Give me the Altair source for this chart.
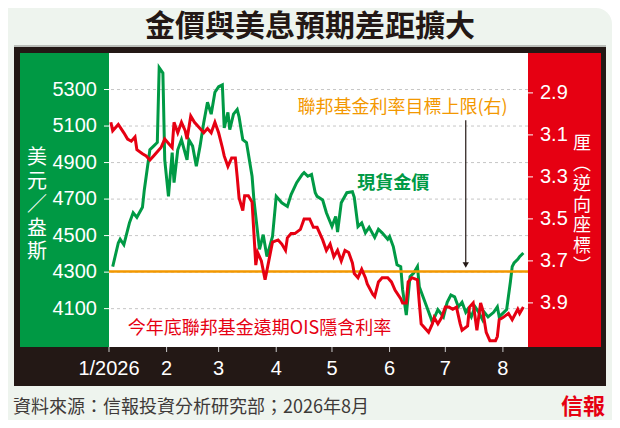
import altair as alt
import pandas as pd

CJK = "Noto Sans CJK TC"
NUM = "Liberation Sans"
# Latin primary face (compact line box) with CJK glyphs supplied by the fallback face
STACK = "Liberation Sans, Noto Sans CJK TC"

# ---------------- data ----------------
gold_dates = [
    "2026-01-03", "2026-01-06", "2026-01-07", "2026-01-09", "2026-01-12", "2026-01-14",
    "2026-01-16", "2026-01-19", "2026-01-20", "2026-01-23", "2026-01-25", "2026-01-27",
    "2026-01-28", "2026-01-30", "2026-01-31", "2026-02-02", "2026-02-04", "2026-02-05",
    "2026-02-07", "2026-02-09", "2026-02-12", "2026-02-13", "2026-02-15", "2026-02-17",
    "2026-02-19", "2026-02-21", "2026-02-23", "2026-02-25", "2026-02-27", "2026-03-01",
    "2026-03-03", "2026-03-04", "2026-03-06", "2026-03-07", "2026-03-09", "2026-03-11",
    "2026-03-12", "2026-03-14", "2026-03-16", "2026-03-19", "2026-03-20", "2026-03-22",
    "2026-03-23", "2026-03-25", "2026-03-27", "2026-03-30", "2026-04-01", "2026-04-04",
    "2026-04-07", "2026-04-09", "2026-04-12", "2026-04-15", "2026-04-16", "2026-04-18",
    "2026-04-20", "2026-04-22", "2026-04-23", "2026-04-26", "2026-04-28", "2026-05-01",
    "2026-05-03", "2026-05-04", "2026-05-06", "2026-05-09", "2026-05-12", "2026-05-13",
    "2026-05-15", "2026-05-17", "2026-05-19", "2026-05-21", "2026-05-24", "2026-05-26",
    "2026-05-28", "2026-05-31", "2026-06-01", "2026-06-03", "2026-06-05", "2026-06-07",
    "2026-06-08", "2026-06-10", "2026-06-12", "2026-06-14", "2026-06-16", "2026-06-17",
    "2026-06-19", "2026-06-21", "2026-06-23", "2026-06-24", "2026-06-27", "2026-06-30",
    "2026-07-02", "2026-07-04", "2026-07-06", "2026-07-08", "2026-07-10", "2026-07-12",
    "2026-07-13", "2026-07-15", "2026-07-17", "2026-07-19", "2026-07-21", "2026-07-22",
    "2026-07-24", "2026-07-27", "2026-07-29", "2026-07-30", "2026-08-03", "2026-08-05",
    "2026-08-06", "2026-08-07", "2026-08-09", "2026-08-10", "2026-08-12",
]
gold_usd = [
    4330, 4460, 4480, 4450, 4570, 4625,
    4600, 4655, 4750, 4970, 4990, 5010,
    5420, 5390, 4915, 4715, 4955, 4790,
    4970, 5025, 4915, 5025, 4990, 4880,
    4990, 5120, 5230, 5165, 5285, 5315,
    5325, 5090, 5175, 5080, 5165, 5190,
    5150, 5025, 5010, 4825, 4695, 4515,
    4425, 4505, 4385, 4495, 4715, 4680,
    4660, 4725, 4790, 4835, 4845, 4825,
    4835, 4735, 4715, 4695, 4625, 4550,
    4605, 4520, 4680, 4735, 4740, 4710,
    4550, 4570, 4515, 4545, 4490, 4535,
    4515, 4480, 4495, 4440, 4340, 4330,
    4205, 4065, 4275, 4295, 4330, 4220,
    4165, 4110, 4055, 4025, 4095, 4055,
    4135, 4175, 4165, 4110, 4135, 4080,
    4095, 4055, 4110, 4080, 4040, 4080,
    4055, 4080, 4110, 4055, 4095, 4245,
    4330, 4350, 4370, 4385, 4405,
]

ois_dates = [
    "2026-01-02", "2026-01-03", "2026-01-06", "2026-01-09", "2026-01-11", "2026-01-13",
    "2026-01-15", "2026-01-16", "2026-01-19", "2026-01-21", "2026-01-23", "2026-01-25",
    "2026-01-27", "2026-01-29", "2026-01-31", "2026-02-03", "2026-02-04", "2026-02-05",
    "2026-02-07", "2026-02-09", "2026-02-11", "2026-02-12", "2026-02-14", "2026-02-16",
    "2026-02-19", "2026-02-21", "2026-02-23", "2026-02-25", "2026-02-27", "2026-03-01",
    "2026-03-03", "2026-03-04", "2026-03-06", "2026-03-08", "2026-03-10", "2026-03-11",
    "2026-03-12", "2026-03-14", "2026-03-15", "2026-03-17", "2026-03-19", "2026-03-21",
    "2026-03-22", "2026-03-24", "2026-03-26", "2026-03-28", "2026-03-30", "2026-04-02",
    "2026-04-04", "2026-04-06", "2026-04-07", "2026-04-09", "2026-04-11", "2026-04-14",
    "2026-04-16", "2026-04-19", "2026-04-21", "2026-04-23", "2026-04-26", "2026-04-28",
    "2026-04-30", "2026-05-02", "2026-05-04", "2026-05-06", "2026-05-08", "2026-05-10",
    "2026-05-12", "2026-05-13", "2026-05-15", "2026-05-17", "2026-05-19", "2026-05-20",
    "2026-05-23", "2026-05-24", "2026-05-26", "2026-05-28", "2026-05-31", "2026-06-02",
    "2026-06-04", "2026-06-07", "2026-06-08", "2026-06-10", "2026-06-11", "2026-06-13",
    "2026-06-16", "2026-06-17", "2026-06-18", "2026-06-19", "2026-06-22", "2026-06-24",
    "2026-06-25", "2026-06-27", "2026-06-29", "2026-07-01", "2026-07-03", "2026-07-05",
    "2026-07-07", "2026-07-09", "2026-07-10", "2026-07-13", "2026-07-14", "2026-07-16",
    "2026-07-18", "2026-07-20", "2026-07-21", "2026-07-23", "2026-07-25", "2026-07-28",
    "2026-07-29", "2026-07-30", "2026-08-01", "2026-08-04", "2026-08-06", "2026-08-09",
    "2026-08-10", "2026-08-12",
]
ois_rate = [
    3.04, 3.08, 3.05, 3.09, 3.12, 3.13,
    3.11, 3.17, 3.19, 3.20, 3.22, 3.20,
    3.18, 3.16, 3.12, 3.15, 3.16, 3.04,
    3.09, 3.04, 3.08, 3.12, 3.01, 3.04,
    3.07, 3.09, 3.07, 3.09, 3.04, 3.09,
    3.16, 3.20, 3.25, 3.21, 3.21, 3.30,
    3.40, 3.46, 3.39, 3.39, 3.42, 3.72,
    3.66, 3.70, 3.79, 3.70, 3.61, 3.60,
    3.62, 3.65, 3.59, 3.57, 3.57, 3.55,
    3.50, 3.50, 3.54, 3.54, 3.60, 3.65,
    3.62, 3.68, 3.65, 3.70, 3.65, 3.66,
    3.71, 3.76, 3.78, 3.74, 3.78, 3.81,
    3.86, 3.87, 3.80, 3.78, 3.78, 3.80,
    3.84, 3.88, 3.90, 3.90, 3.80, 3.78,
    3.79, 3.90, 4.00, 4.01, 4.04, 4.00,
    3.97, 4.00, 3.97, 3.92, 3.92, 3.93,
    3.92, 4.00, 4.03, 4.01, 3.92, 3.90,
    4.03, 3.90, 3.93, 4.04, 4.08, 4.08,
    4.06, 3.98, 3.97, 3.95, 3.98, 3.93,
    3.95, 3.92,
]

month_dates = ["2026-01-01", "2026-02-01", "2026-03-01", "2026-04-01",
               "2026-05-01", "2026-06-01", "2026-07-01", "2026-08-01"]
month_labels = ["1/2026", "2", "3", "4", "5", "6", "7", "8"]
gold_ticks = [4100, 4300, 4500, 4700, 4900, 5100, 5300]
rate_ticks = [2.9, 3.1, 3.3, 3.5, 3.7, 3.9]
fed_upper = 3.75

title_text = "金價與美息預期差距擴大"
gold_name = "現貨金價"
ois_name = "今年底聯邦基金遠期OIS隱含利率"
fed_name = "聯邦基金利率目標上限(右)"
left_title = ["美", "元", "／", "盎", "斯"]
right_title = ["厘", "︵", "逆", "向", "座", "標", "︶"]
source_text = "資料來源：信報投資分析研究部；2026年8月"
logo_text = "信報"

# ---------------- style ----------------
GREEN = "#009944"
LINE_GREEN = "#009a45"
RED = "#e60012"
ORANGE = "#f39800"
DARK = "#231815"
BG = "#eef4ee"
W, H = 419, 294

gold_df = pd.DataFrame({"date": gold_dates, "gold": gold_usd})
ois_df = pd.DataFrame({"date": ois_dates, "rate": ois_rate})
month_df = pd.DataFrame({"date": month_dates, "label": month_labels})
gold_tick_df = pd.DataFrame({"g": gold_ticks})
rate_tick_df = pd.DataFrame({"r": rate_ticks})
dummy = pd.DataFrame({"k": [0]})

x_scale = alt.Scale(
    type="utc",
    domain=[
        alt.DateTime(year=2026, month=1, date=1, utc=True),
        alt.DateTime(year=2026, month=8, date=14, hours=12, utc=True),
    ],
    nice=False,
)
y_gold = alt.Scale(domain=[3890, 5500], nice=False, zero=False)
y_rate = alt.Scale(domain=[2.71, 4.11], reverse=True, nice=False, zero=False)


def X(field):
    return alt.X(field, scale=x_scale, axis=None)


def YG(field):
    return alt.Y(field, scale=y_gold, axis=None)


def YR(field):
    return alt.Y(field, scale=y_rate, axis=None)


def panel(x0, x1, y0, y1, color, **kw):
    return alt.Chart(dummy).mark_rect(color=color, **kw).encode(
        x=alt.value(x0), x2=alt.value(x1), y=alt.value(y0), y2=alt.value(y1)
    )


bg = panel(-101, W + 84, -45, H + 73, BG, cornerRadiusTopRight=16)
frame_shade = panel(-95, W + 78, -8, -6, "#b9bdb8")
frame = panel(-95, W + 78, -6, H + 39, DARK)
plot_bg = panel(0, W, 0, H, "white")
green_panel = panel(-89, 0, 0, H, GREEN)
red_panel = panel(W, W + 73, 0, H, RED)

# ---------------- left (gold) group ----------------
grid = alt.Chart(gold_tick_df).mark_rule(
    color="#b8b8b8", strokeDash=[3, 3], strokeWidth=0.8
).encode(y=YG("g:Q"))

gold_line = alt.Chart(gold_df).mark_line(color=LINE_GREEN, strokeWidth=3).encode(
    x=X("date:T"), y=YG("gold:Q"),
)

gold_label = alt.Chart(
    pd.DataFrame({"date": ["2026-06-03"], "gold": [4785], "label": [gold_name]})
).mark_text(color=LINE_GREEN, font=CJK, fontSize=18, fontWeight="bold",
            align="center", baseline="middle").encode(
    x=X("date:T"), y=YG("gold:Q"), text="label:N",
)

left_ticks = alt.Chart(gold_tick_df).mark_rule(color="white", strokeWidth=1).encode(
    y=YG("g:Q"), x=alt.value(-5), x2=alt.value(0)
)
left_labels = alt.Chart(gold_tick_df).mark_text(
    color="white", font=NUM, fontSize=20, align="right", baseline="middle"
).encode(y=YG("g:Q"), x=alt.value(-12), text=alt.Text("g:Q", format="d"))

x_ticks = alt.Chart(month_df).mark_rule(color="#cccccc", strokeWidth=1).encode(
    x=X("date:T"), y=alt.value(H), y2=alt.value(H + 5)
)
x_labels = alt.Chart(month_df).mark_text(
    color="white", font=NUM, fontSize=20, align="center", baseline="alphabetic"
).encode(x=X("date:T"), y=alt.value(H + 28), text="label:N")

left_group = alt.layer(grid, gold_line, gold_label, left_ticks, left_labels, x_ticks, x_labels)

# ---------------- right (rate) group ----------------
fed_rule = alt.Chart(pd.DataFrame({"rate": [fed_upper]})).mark_rule(
    color=ORANGE, strokeWidth=2.5
).encode(y=YR("rate:Q"))

ois_line = alt.Chart(ois_df).mark_line(color=RED, strokeWidth=3).encode(
    x=X("date:T"), y=YR("rate:Q"),
)

arrow_df = pd.DataFrame({"date": ["2026-07-12"], "top": [3.03], "bottom": [3.72]})
arrow_line = alt.Chart(arrow_df).mark_rule(color=DARK, strokeWidth=1.2).encode(
    x=X("date:T"), y=YR("top:Q"), y2="bottom:Q",
)
arrow_head = alt.Chart(arrow_df).mark_point(
    shape="triangle-down", filled=True, size=40, color=DARK, opacity=1
).encode(x=X("date:T"), y=YR("bottom:Q"))

fed_label = alt.Chart(
    pd.DataFrame({"date": ["2026-06-08"], "rate": [2.971], "label": [fed_name]})
).mark_text(color=ORANGE, font=CJK, fontSize=18, align="center", baseline="middle").encode(
    x=X("date:T"), y=YR("rate:Q"), text="label:N",
)
ois_label = alt.Chart(
    pd.DataFrame({"date": ["2026-03-23"], "rate": [4.024], "label": [ois_name]})
).mark_text(color=RED, font=CJK, fontSize=18, align="center", baseline="middle").encode(
    x=X("date:T"), y=YR("rate:Q"), text="label:N",
)

right_ticks = alt.Chart(rate_tick_df).mark_rule(color="white", strokeWidth=1).encode(
    y=YR("r:Q"), x=alt.value(W), x2=alt.value(W + 5)
)
right_labels = alt.Chart(rate_tick_df).mark_text(
    color="white", font=NUM, fontSize=20, align="left", baseline="middle"
).encode(y=YR("r:Q"), x=alt.value(W + 12), text=alt.Text("r:Q", format=".1f"))

right_group = alt.layer(fed_rule, ois_line, arrow_line, arrow_head, fed_label, ois_label,
                        right_ticks, right_labels)

# ---------------- texts outside the plot ----------------
left_axis_title = alt.Chart(dummy).mark_text(
    text=left_title, font=STACK, fontSize=20, lineHeight=23.5, color="white",
    align="center", baseline="middle",
).encode(x=alt.value(-72), y=alt.value(105))

right_axis_title = alt.Chart(dummy).mark_text(
    text=right_title, font=STACK, fontSize=18, lineHeight=20.5, color="white",
    align="center", baseline="middle",
).encode(x=alt.value(W + 54), y=alt.value(91))

title = alt.Chart(dummy).mark_text(
    text=title_text, font=STACK, fontSize=30, fontWeight="bold", color=DARK,
    align="center", baseline="alphabetic",
).encode(x=alt.value(201), y=alt.value(-17))

source = alt.Chart(dummy).mark_text(
    text=source_text, font=CJK, fontSize=18, color="#3e3a39",
    align="left", baseline="alphabetic",
).encode(x=alt.value(-96), y=alt.value(360))

logo = alt.Chart(dummy).mark_text(
    text=logo_text, font=CJK, fontSize=22, fontWeight="bold", color=RED,
    align="center", baseline="alphabetic",
).encode(x=alt.value(474), y=alt.value(361))

chart = alt.layer(
    bg, frame_shade, frame, plot_bg, green_panel, red_panel,
    left_group, right_group,
    left_axis_title, right_axis_title, title, source, logo,
).resolve_scale(y="independent").properties(
    width=W, height=H,
    padding={"left": 101, "top": 45, "right": 84, "bottom": 73},
    autosize=alt.AutoSizeParams(type="none"),
    background="white",
).configure_view(stroke=None)

chart.save("out.html", embed_options={"renderer": "svg", "actions": False})
